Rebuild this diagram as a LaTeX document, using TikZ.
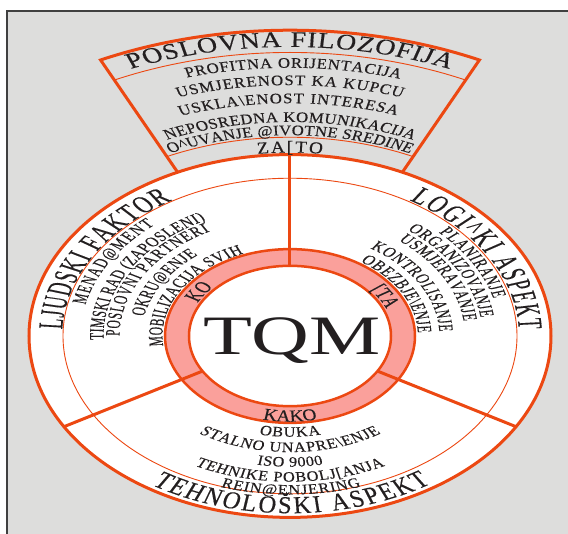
\documentclass[tikz,border=0pt]{standalone}
\usepackage{fontspec}
\setmainfont{Liberation Serif}
\newfontfamily\headfont[FakeStretch=0.7, FakeBold=0.3]{Liberation Serif}
\newfontfamily\fanfont[FakeStretch=0.87, FakeBold=0.3]{Liberation Serif}
\newfontfamily\itemfont[FakeStretch=0.8, FakeBold=0.3]{Liberation Serif}
\usetikzlibrary{decorations.text}

\definecolor{tqmline}{RGB}{236,72,18}
\definecolor{tqmring}{RGB}{250,160,155}
\definecolor{tqmback}{RGB}{221,221,220}
\definecolor{tqmtext}{RGB}{35,31,32}

% fonts for the curved lines
\newcommand{\headsize}{\color{tqmtext}\headfont\fontsize{35}{38}\selectfont}
\newcommand{\fansize}{\color{tqmtext}\fanfont\fontsize{32}{35}\selectfont}
\newcommand{\fanitemsize}{\color{tqmtext}\itemfont\fontsize{21}{24}\selectfont}
\newcommand{\itemsize}{\color{tqmtext}\itemfont\fontsize{20.5}{23}\selectfont}
\newcommand{\asksize}{\color{tqmtext}\itemfont\fontsize{24}{26}\selectfont}

% one line of text on a circle of radius #2, from angle #3 to angle #4
\newcommand{\arcline}[6][fit to path]{%
  \path[decorate, decoration={text along path, text align=#1, text={|#5|#6}}]
    (#3:#2pt) arc[start angle=#3, end angle=#4, radius=#2pt];}

\begin{document}
\begin{tikzpicture}[
  x=1pt, y=1pt,
  rim/.style={draw=tqmline, line width=3pt},
  guide/.style={draw=tqmline, line width=0.9pt},
  ringedge/.style={draw=tqmline, line width=2.5pt},
]
  \useasboundingbox (-290,-198) rectangle (278,336);

  % page and frame
  \fill[tqmback] (-283,-198) rectangle (278,325);
  \draw[black!75, line width=1.2pt] (-283,-198) -- (-283,325) -- (278,325);

  \begin{scope}[yscale=0.695]
    % fan on top
    \draw[rim, line join=miter] (64.5:261) -- (64.5:440)
      arc[start angle=64.5, end angle=115.5, radius=440] -- (115.5:261);
    \draw[guide] (64.5:408) arc[start angle=64.5, end angle=115.5, radius=408];
    \draw[guide] (64.5:286) arc[start angle=64.5, end angle=115.5, radius=286];

    % disc
    \draw[rim, fill=white] (0,0) circle[radius=261];
    \draw[guide] (0,0) circle[radius=227];

    % ring round the centre
    \fill[tqmring, even odd rule] (0,0) circle[radius=125] circle[radius=101];
    \draw[rim] (90:101) -- (90:261);
    \draw[rim] (210:101) -- (210:261);
    \draw[rim] (330:101) -- (330:261);
    \draw[ringedge] (0,0) circle[radius=125];
    \draw[ringedge] (0,0) circle[radius=101];
  \end{scope}

  \begin{scope}[transform canvas={yscale=0.695}]
    \node[font=\fontsize{80}{80}\selectfont, text=tqmtext, inner sep=0pt,
      anchor=base] (tqm) at (2,-26.5) {TQM};

    % fan
    \arcline{416}{112.5}{67.5}{\fansize}{POSLOVNA FILOZOFIJA}
    \arcline{386}{105.5}{73.5}{\fanitemsize}{PROFITNA ORIJENTACIJA}
    \arcline{361}{108}{72}{\fanitemsize}{USMJERENOST KA KUPCU}
    \arcline{335}{109}{71.5}{\fanitemsize}{USKLA{\textbackslash}ENOST INTERESA}
    \arcline{308}{113.5}{66.5}{\fanitemsize}{NEPOSREDNA KOMUNIKACIJA}
    \arcline{289}{114.5}{65.5}{\fanitemsize}{O{\textasciicircum}UVANJE @IVOTNE SREDINE}
    \arcline{264}{97}{83}{\asksize}{ZA[TO}

    % left part
    \arcline{228}{177.6}{121.2}{\headsize}{LJUDSKI FAKTOR}
    \arcline{209.5}{167.6}{130.2}{\itemsize}{MENAD@MENT}
    \arcline{186.5}{181.7}{116.8}{\itemsize}{TIMSKI RAD (ZAPOSLENI)}
    \arcline{170.5}{180}{118}{\itemsize}{POSLOVNI PARTNERI}
    \arcline{148.5}{169}{128.3}{\itemsize}{OKRU@ENJE}
    \arcline{127.5}{186.5}{111.3}{\itemsize}{MOBILIZACIJA SVIH}
    \arcline[center]{104}{165}{125}{\asksize}{KO}

    % right part
    \arcline{229}{58.6}{2.4}{\headsize}{LOGI{\textasciicircum}KI ASPEKT}
    \arcline{210.5}{45.1}{14.9}{\itemsize}{PLANIRANJE}
    \arcline{192.5}{52.4}{8}{\itemsize}{ORGANIZOVANJE}
    \arcline{175}{51.8}{7}{\itemsize}{USMJERAVANJE}
    \arcline{149.5}{57.6}{2.4}{\itemsize}{KONTROLISANJE}
    \arcline{128}{56.7}{2}{\itemsize}{OBEZBJE{\textbackslash}ENJE}
    \arcline[center]{104}{51}{11}{\asksize}{[TA}

    % bottom part
    \arcline{255}{237.2}{303.5}{\headsize}{TEHNOLOŠKI ASPEKT}
    \arcline[center]{123}{250}{290}{\asksize}{KAKO}
    \arcline{145}{257.7}{282.3}{\itemsize}{OBUKA}
    \arcline{167}{237}{303}{\itemsize}{STALNO UNAPRE{\textbackslash}ENJE}
    \arcline{188}{259.8}{280.2}{\itemsize}{ISO 9000}
    \arcline{209.5}{243}{297}{\itemsize}{TEHNIKE POBOLJ[ANJA}
    \arcline{228}{252.3}{288.2}{\itemsize}{REIN@ENJERING}
  \end{scope}
\end{tikzpicture}
\end{document}
